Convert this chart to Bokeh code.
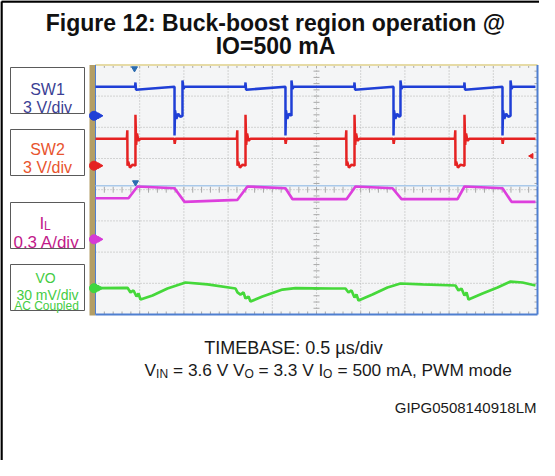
import math
import numpy as np
from bokeh.plotting import figure
from bokeh.models import Range1d
from bokeh.core.properties import value
from bokeh.embed import file_html
from bokeh.resources import INLINE

# ---------------- data ----------------
time_per_div_us = 0.5
n_hdiv = 10
n_vdiv = 8

# SW1 (V), 3 V/div
sw1_t_us = [0.000, 0.448, 0.452, 0.458, 0.894, 0.894, 0.900, 0.915, 0.935, 0.960, 0.984, 0.984, 0.995, 1.010,
            1.693, 1.697, 1.703, 2.149, 2.149, 2.155, 2.170, 2.190, 2.217, 2.217, 2.228, 2.243,
            2.926, 2.930, 2.936, 3.371, 3.371, 3.377, 3.392, 3.412, 3.435, 3.450, 3.450, 3.461, 3.476,
            4.170, 4.174, 4.180, 4.604, 4.604, 4.610, 4.625, 4.645, 4.670, 4.695, 4.695, 4.706, 4.721, 4.977]
sw1_v = [2.8, 2.8, 3.2, 2.5, 2.8, -1.9, 0.5, -0.3, 0.2, -0.1, 0.0, 3.4, 2.6, 2.8,
         2.8, 3.2, 2.5, 2.8, -1.9, 0.5, -0.3, 0.2, 0.0, 3.4, 2.6, 2.8,
         2.8, 3.2, 2.5, 2.8, -1.9, 0.5, -0.3, 0.2, -0.1, 0.0, 3.4, 2.6, 2.8,
         2.8, 3.2, 2.5, 2.8, -1.9, 0.5, -0.3, 0.2, -0.1, 0.0, 3.4, 2.6, 2.8, 2.8]

# SW2 (V), 3 V/div
sw2_t_us = [0.000, 0.355, 0.360, 0.362, 0.370, 0.390, 0.420, 0.452, 0.452, 0.460, 0.470, 0.485, 0.510, 0.890, 0.896, 0.905,
            1.599, 1.604, 1.606, 1.614, 1.634, 1.664, 1.697, 1.697, 1.705, 1.715, 1.730, 1.755, 2.145, 2.151, 2.160,
            2.832, 2.837, 2.839, 2.847, 2.867, 2.897, 2.930, 2.930, 2.938, 2.948, 2.963, 2.988, 3.367, 3.373, 3.382,
            4.065, 4.070, 4.072, 4.080, 4.100, 4.130, 4.174, 4.174, 4.182, 4.192, 4.207, 4.232, 4.600, 4.606, 4.615,
            4.977]
sw2_v = [2.6, 2.6, 3.4, 0.0, 0.4, -0.2, 0.1, 0.0, 4.9, 2.0, 3.1, 2.4, 2.6, 2.6, 2.1, 2.6,
         2.6, 3.4, 0.0, 0.4, -0.2, 0.1, 0.0, 4.9, 2.0, 3.1, 2.4, 2.6, 2.6, 2.1, 2.6,
         2.6, 3.4, 0.0, 0.4, -0.2, 0.1, 0.0, 4.9, 2.0, 3.1, 2.4, 2.6, 2.6, 2.1, 2.6,
         2.6, 3.4, 0.0, 0.4, -0.2, 0.1, 0.0, 4.9, 2.0, 3.1, 2.4, 2.6, 2.6, 2.1, 2.6,
         2.6]

# IL (A), 0.3 A/div
il_t_us = [0.000, 0.373, 0.475, 0.894, 1.007, 1.606, 1.719, 2.149, 2.229, 2.839, 2.941, 3.360, 3.462,
           4.095, 4.174, 4.604, 4.706, 4.977]
il_a = [0.395, 0.395, 0.508, 0.491, 0.360, 0.380, 0.508, 0.491, 0.386, 0.386, 0.508, 0.491, 0.386,
        0.386, 0.508, 0.491, 0.360, 0.360]

# VO (mV, AC coupled), 30 mV/div
vo_t_us = [0.000, 0.362, 0.396, 0.430, 0.464, 0.486, 0.509, 0.645, 0.814, 1.018, 1.267, 1.584, 1.606, 1.640,
           1.674, 1.697, 1.731, 1.753, 1.889, 2.115, 2.262, 2.681, 2.828, 2.862, 2.896, 2.930, 2.952, 2.975,
           3.133, 3.303, 3.450, 3.699, 4.072, 4.106, 4.140, 4.174, 4.197, 4.220, 4.378, 4.548, 4.695, 4.830, 4.977]
vo_mv = [0.0, 0.4, -4.1, -2.2, -8.0, -5.1, -10.9, -7.0, -0.3, 5.5, 3.6, -0.3, -4.1, -6.1,
         -4.1, -9.9, -8.0, -12.8, -8.0, -1.3, 0.0, -0.3, -0.3, -4.1, -2.2, -8.9, -6.1, -11.8,
         -6.1, 0.7, 4.5, 3.6, 2.6, -2.2, -0.3, -7.0, -4.1, -10.9, -5.1, 0.7, 6.4, 5.5, 2.6]

# channel ground positions (divisions from screen bottom) and scales
sw1_gnd_div, sw1_per_div = 6.37, 3.0
sw2_gnd_div, sw2_per_div = 4.77, 3.0
il_gnd_div, il_per_div = 2.41, 0.3
vo_gnd_div, vo_per_div = 0.843, 30.0
cursor_div = 4.13

title_lines = ["Figure 12: Buck-boost region operation @", "IO=500 mA"]
timebase_text = "TIMEBASE: 0.5 µs/div"
code_text = "GIPG0508140918LM"

# ---------------- layout ----------------
W, H = 539, 460
OX, OY = 8, 8
SX0, SX1, SY0, SY1 = 103.0, 545.0, 72.4, 322.0
PX_US = (SX1 - SX0) / (n_hdiv * time_per_div_us)
PX_DIV = (SY1 - SY0) / n_vdiv


def X(px):
    return (px - SX0) / PX_US


def Y(py):
    return (SY1 - py) / PX_DIV


p = figure(width=W, height=H, x_range=Range1d(X(OX), X(OX + W)), y_range=Range1d(Y(OY + H), Y(OY)),
           output_backend="svg", toolbar_location=None, x_axis_type=None, y_axis_type=None,
           min_border=0, background_fill_color="white", border_fill_color="white")
p.outline_line_color = None
p.grid.visible = False

FONT = value("Liberation Sans")
T_END = n_hdiv * time_per_div_us

# outer frame (left and top)
p.segment(x0=[X(9), X(9)], y0=[Y(9), Y(9)], x1=[X(9), X(560)], y1=[Y(480), Y(9)], line_color="black", line_width=2.5)

# title
p.text(x=[X(283), X(283)], y=[Y(30), Y(53)], text=title_lines, text_font=FONT, text_font_size="23px",
       text_font_style="bold", text_align="center", text_baseline="alphabetic", text_color="#111111")

# scope screen
p.quad(left=[X(SX0)], right=[X(SX1)], top=[Y(SY0)], bottom=[Y(SY1)], fill_color="#f4f5f6", line_color=None)
p.quad(left=[X(97)], right=[X(SX0)], top=[Y(SY0)], bottom=[Y(SY1 + 1)], fill_color="#b39e66", line_color=None)

# grid
gx = [i * time_per_div_us for i in range(1, n_hdiv)]
gy = list(range(1, n_vdiv))
p.segment(x0=gx, y0=[0] * len(gx), x1=gx, y1=[n_vdiv] * len(gx), line_color="#b0b0b0", line_width=1, line_dash="1 2")
p.segment(x0=[0] * len(gy), y0=gy, x1=[T_END] * len(gy), y1=gy, line_color="#b0b0b0", line_width=1, line_dash="1 2")

# minor ticks
mt = np.arange(0.1, T_END, 0.1)
dv = 3 / PX_DIV
p.segment(x0=mt, y0=[n_vdiv] * len(mt), x1=mt, y1=[n_vdiv - dv] * len(mt), line_color="#a8a8a8")
p.segment(x0=mt, y0=[0] * len(mt), x1=mt, y1=[dv] * len(mt), line_color="#a8a8a8")
p.segment(x0=mt, y0=[n_vdiv / 2 - dv] * len(mt), x1=mt, y1=[n_vdiv / 2 + dv] * len(mt), line_color="#a8a8a8")
mv = np.arange(0.2, n_vdiv, 0.2)
dh = 3 / PX_US
p.segment(x0=[T_END / 2 - dh] * len(mv), y0=mv, x1=[T_END / 2 + dh] * len(mv), y1=mv, line_color="#a8a8a8")
p.segment(x0=[T_END - dh] * len(mv), y0=mv, x1=[T_END] * len(mv), y1=mv, line_color="#a8a8a8")

# screen borders
p.segment(x0=[0], y0=[n_vdiv], x1=[T_END], y1=[n_vdiv], line_color="#e6dba6", line_width=2)
p.segment(x0=[T_END, 0, 0], y0=[0, 0, 0], x1=[T_END, T_END, 0], y1=[n_vdiv, 0, n_vdiv],
          line_color="#4f7fd0", line_width=[2, 2, 1])

# cursor line
p.segment(x0=[0], y0=[cursor_div], x1=[T_END], y1=[cursor_div], line_color="#a9c9ea", line_width=1.5)

# traces
il_y = [il_gnd_div + a / il_per_div for a in il_a]
vo_y = [vo_gnd_div + m / vo_per_div for m in vo_mv]
sw2_y = [sw2_gnd_div + v / sw2_per_div for v in sw2_v]
sw1_y = [sw1_gnd_div + v / sw1_per_div for v in sw1_v]
p.line(il_t_us, il_y, line_color="#dd3fdd", line_width=2.7)
p.line(vo_t_us, vo_y, line_color="#45d83a", line_width=2.7)
p.line(sw2_t_us, sw2_y, line_color="#e52222", line_width=2.5)
p.line(sw1_t_us, sw1_y, line_color="#1f3fd6", line_width=2.5)

# channel ground markers
mk_y = [sw1_gnd_div, sw2_gnd_div, il_gnd_div, vo_gnd_div]
mk_c = ["#1f3fd6", "#e52222", "#d63ad6", "#3fd63f"]
p.scatter(x=[X(101.5)] * 4, y=mk_y, marker="circle", size=9, fill_color=mk_c, line_color=mk_c)
p.scatter(x=[X(107)] * 4, y=mk_y, marker="triangle", angle=-math.pi / 2, size=6, fill_color=mk_c, line_color=mk_c)

# trigger markers
p.scatter(x=[X(142), X(143)], y=[Y(76), Y(190)], marker="inverted_triangle", size=6,
          fill_color="#2b6cb0", line_color="#2b6cb0")
p.scatter(x=[X(539)], y=[Y(163.5)], marker="triangle", angle=math.pi / 2, size=5,
          fill_color="#e52222", line_color="#e52222")

# channel label boxes
box_top = [75, 137, 210, 272]
box_bot = [121, 183, 256, 318]
p.quad(left=[X(18)] * 4, right=[X(92)] * 4, top=[Y(t) for t in box_top], bottom=[Y(b) for b in box_bot],
       fill_color="white", line_color="#5a5a5a", line_width=1)

cx = X(55)
p.text(x=[cx, cx], y=[Y(97), Y(115)], text=["SW1", "3 V/div"], text_font=FONT, text_font_size="16px",
       text_align="center", text_baseline="alphabetic", text_color="#3c3f94")
p.text(x=[cx, cx], y=[Y(157), Y(175)], text=["SW2", "3 V/div"], text_font=FONT, text_font_size="16px",
       text_align="center", text_baseline="alphabetic", text_color="#e8542e")
p.text(x=[X(47)], y=[Y(231)], text=["I"], text_font=FONT, text_font_size="17px",
       text_align="left", text_baseline="alphabetic", text_color="#c21a8a")
p.text(x=[X(51.5)], y=[Y(233)], text=["L"], text_font=FONT, text_font_size="12px",
       text_align="left", text_baseline="alphabetic", text_color="#c21a8a")
p.text(x=[X(54)], y=[Y(250)], text=["0.3 A/div"], text_font=FONT, text_font_size="17px",
       text_align="center", text_baseline="alphabetic", text_color="#c21a8a")
p.text(x=[X(53)], y=[Y(285)], text=["VO"], text_font=FONT, text_font_size="14px",
       text_align="center", text_baseline="alphabetic", text_color="#44cc44")
p.text(x=[X(55)], y=[Y(302)], text=["30 mV/div"], text_font=FONT, text_font_size="14px",
       text_align="center", text_baseline="alphabetic", text_color="#44cc44")
p.text(x=[X(54)], y=[Y(313.5)], text=["AC Coupled"], text_font=FONT, text_font_size="12px",
       text_align="center", text_baseline="alphabetic", text_color="#44cc44")

# bottom texts
p.text(x=[X(301)], y=[Y(355)], text=[timebase_text], text_font=FONT, text_font_size="18px",
       text_align="center", text_baseline="alphabetic", text_color="#1a1a1a")

main_pieces = ["V", "= 3.6 V V", "= 3.3 V I", "= 500 mA, PWM mode"]
main_x = [152, 180.5, 266.0, 345.0]
sub_pieces = ["IN", "O", "O"]
sub_x = [163.6, 252.0, 330.5]
p.text(x=[X(v) for v in main_x], y=[Y(377)] * 4, text=main_pieces, text_font=FONT, text_font_size="17.3px",
       text_align="left", text_baseline="alphabetic", text_color="#1a1a1a")
p.text(x=[X(v) for v in sub_x], y=[Y(381)] * 3, text=sub_pieces, text_font=FONT, text_font_size="12px",
       text_align="left", text_baseline="alphabetic", text_color="#1a1a1a")

p.text(x=[X(544)], y=[Y(415)], text=[code_text], text_font=FONT, text_font_size="15px",
       text_align="right", text_baseline="alphabetic", text_color="#1a1a1a")

open("out.html", "w").write(file_html(p, INLINE))
